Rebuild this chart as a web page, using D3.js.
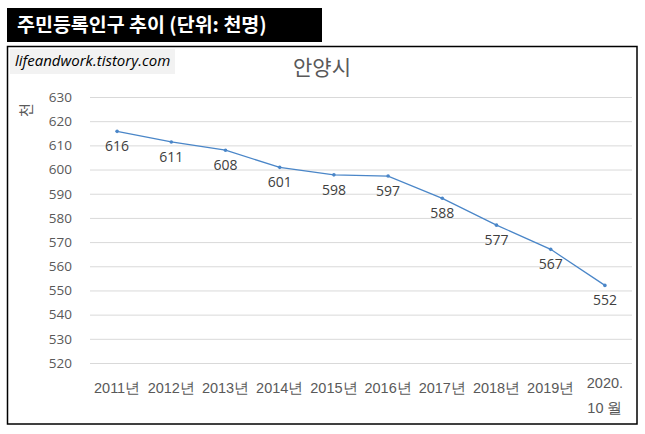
<!DOCTYPE html>
<html><head><meta charset="utf-8">
<script src="https://cdn.jsdelivr.net/npm/d3@7"></script>
<style>
body{margin:0;background:#fff;}
svg{display:block;font-family:"Noto Sans CJK KR","Noto Sans",sans-serif;}
</style></head>
<body>
<svg id="c" width="645" height="434"></svg>
<script>
const categories = ["2011년","2012년","2013년","2014년","2015년","2016년","2017년","2018년","2019년","2020.|10 월"];
const values = [615.8, 611.4, 608.0, 600.9, 597.8, 597.3, 588.1, 577.0, 567.0, 552.1];
const yTicks = [520,530,540,550,560,570,580,590,600,610,620,630];
const mainTitle = "주민등록인구 추이 (단위: 천명)";
const watermark = "lifeandwork.tistory.com";
const chartTitle = "안양시";
const yLabel = "천";

const svg = d3.select("#c");
svg.append("rect").attr("x",7.5).attr("y",46.5).attr("width",629.5).attr("height",377.5)
  .attr("fill","#fff").attr("stroke","#000").attr("stroke-width",1.5);
svg.append("rect").attr("x",7).attr("y",8).attr("width",315).attr("height",34).attr("fill","#000");
svg.append("text").attr("x",17).attr("y",32).attr("fill","#fff").attr("font-size",19.5).attr("font-weight","bold")
  .text(mainTitle);
svg.append("rect").attr("x",10).attr("y",49).attr("width",165).attr("height",25).attr("fill","#f2f2f2");
svg.append("text").attr("x",15).attr("y",66).attr("fill","#000").attr("font-size",15).attr("font-style","italic")
  .attr("font-family","'Open Sans',sans-serif").text(watermark);
svg.append("text").attr("x",322).attr("y",75).attr("text-anchor","middle").attr("fill","#595959").attr("font-size",21)
  .text(chartTitle);

const x = d3.scaleBand().domain(categories).range([90,632]);
const y = d3.scaleLinear().domain([520,630]).range([363,97]);

svg.append("text").attr("transform","translate(32,110) rotate(-90)").attr("text-anchor","middle")
  .attr("fill","#595959").attr("font-size",15).text(yLabel);

const yAxis = d3.axisLeft(y).tickValues(yTicks).tickSize(-(632-90)).tickPadding(18);
const gy = svg.append("g").attr("transform","translate(90,0)").call(yAxis);
gy.select(".domain").remove();
gy.selectAll(".tick line").attr("stroke","#d9d9d9");
gy.selectAll(".tick text").attr("fill","#595959").attr("font-size",13.5).attr("font-family","'Open Sans',sans-serif");

const gx = svg.append("g").attr("transform","translate(0,363)").call(d3.axisBottom(x).tickSize(0).tickPadding(0));
gx.select(".domain").remove();
gx.selectAll(".tick text").each(function(d){
  const t = d3.select(this).text(null).attr("fill","#595959").attr("font-size",14.5).attr("y",0).attr("dy",null);
  const parts = d.split("|");
  if(parts.length===1){ t.append("tspan").attr("x",0).attr("y",30).text(parts[0]); }
  else { t.append("tspan").attr("x",0).attr("y",25).text(parts[0]); t.append("tspan").attr("x",0).attr("y",50).text(parts[1]); }
});

const cx = (d,i)=>x(categories[i])+x.bandwidth()/2;
const line = d3.line().x((d,i)=>cx(d,i)).y(d=>y(d));
svg.append("path").datum(values).attr("d",line).attr("fill","none").attr("stroke","#4a86c8").attr("stroke-width",1.25);
svg.selectAll(".pt").data(values).join("circle").attr("class","pt")
  .attr("cx",cx).attr("cy",d=>y(d)).attr("r",1.8).attr("fill","#4a86c8");
svg.selectAll(".lbl").data(values).join("text").attr("class","lbl")
  .attr("x",cx).attr("y",d=>y(d)+20).attr("text-anchor","middle").attr("fill","#404040").attr("font-size",14)
  .attr("font-family","'Open Sans',sans-serif").text(d=>d3.format(".0f")(d));
</script>
</body></html>
